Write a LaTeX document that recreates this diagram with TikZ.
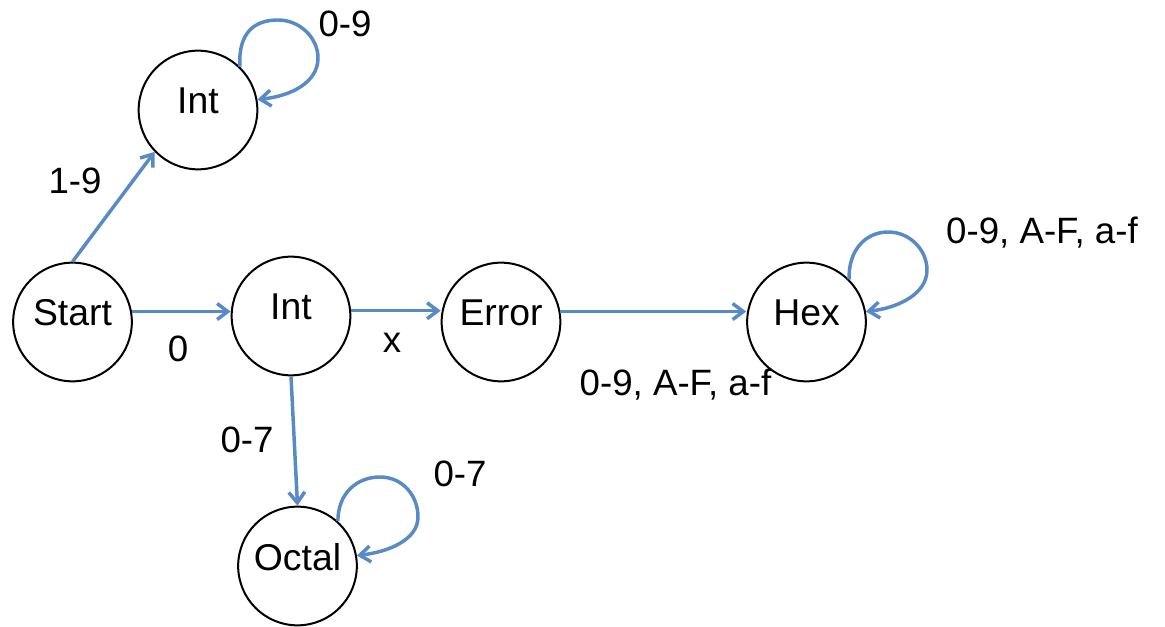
\documentclass[tikz,border=0pt]{standalone}
\usepackage{fontspec}
\setmainfont{Liberation Sans}
\usetikzlibrary{arrows.meta}
\definecolor{edgeblue}{RGB}{88,138,198}
\newcommand{\nodefont}{\fontsize{28}{32}\selectfont}
\newcommand{\lblfont}{\fontsize{27.5}{31}\selectfont}
\begin{document}
\begin{tikzpicture}[x=0.75pt,y=-0.75pt,
  st/.style={circle,draw=black,line width=1.5pt,minimum size=89pt,inner sep=0pt,
    text height=6pt,text depth=0pt,font=\nodefont},
  tr/.style={draw=edgeblue,line width=2.6pt,-{Straight Barb[length=8pt,width=12pt]}},
  lbl/.style={anchor=base,inner sep=0pt,font=\lblfont}]
\useasboundingbox[fill=white] (0,0) rectangle (1165,627);
% states
\node[st] (int1)  at (198,110)   {Int};
\node[st] (start) at (72.5,322)  {Start};
\node[st] (int2)  at (291,316)   {Int};
\node[st] (err)   at (501,322)   {Error};
\node[st] (hex)   at (806.5,322) {Hex};
\node[st] (oct)   at (297.5,566) {Octal};
% transitions
\draw[tr] (start.north) -- (int1.224);
\draw[tr] (start.10) -- (start.10 -| int2.west);
\draw[tr] (int2.5) -- (int2.5 -| err.west);
\draw[tr] (err.10) -- (err.10 -| hex.west);
\draw[tr] (int2.south) -- (oct.north);
% loops
\draw[tr] (int1.46) .. controls (238,32) and (255,20) .. (278,20)
  .. controls (300,20) and (318,38) .. (318,58)
  .. controls (318,82) and (292,96) .. (int1.10);
\draw[tr] (oct.48) .. controls (338,492) and (358,477) .. (380,477)
  .. controls (402,477) and (418,495) .. (418,517)
  .. controls (418,540) and (388,552) .. (oct.10);
\draw[tr] (hex.45) .. controls (848,250) and (866,232) .. (888,232)
  .. controls (910,232) and (927,250) .. (927,270)
  .. controls (927,294) and (898,308) .. (hex.10);
% labels
\node[lbl] (l09)   at (345,37)    {0-9};
\node[lbl] (l19)   at (75,194)    {1-9};
\node[lbl] (l0)    at (178,362)   {0};
\node[lbl] (lx)    at (392,353)   {x};
\node[lbl] (l07a)  at (247,453)   {0-7};
\node[lbl] (l07b)  at (460,487)   {0-7};
\node[lbl] (lhexa) at (675.5,396) {0-9, A-F, a-f};
\node[lbl] (lhexb) at (1042,244)  {0-9, A-F, a-f};
\end{tikzpicture}
\end{document}
